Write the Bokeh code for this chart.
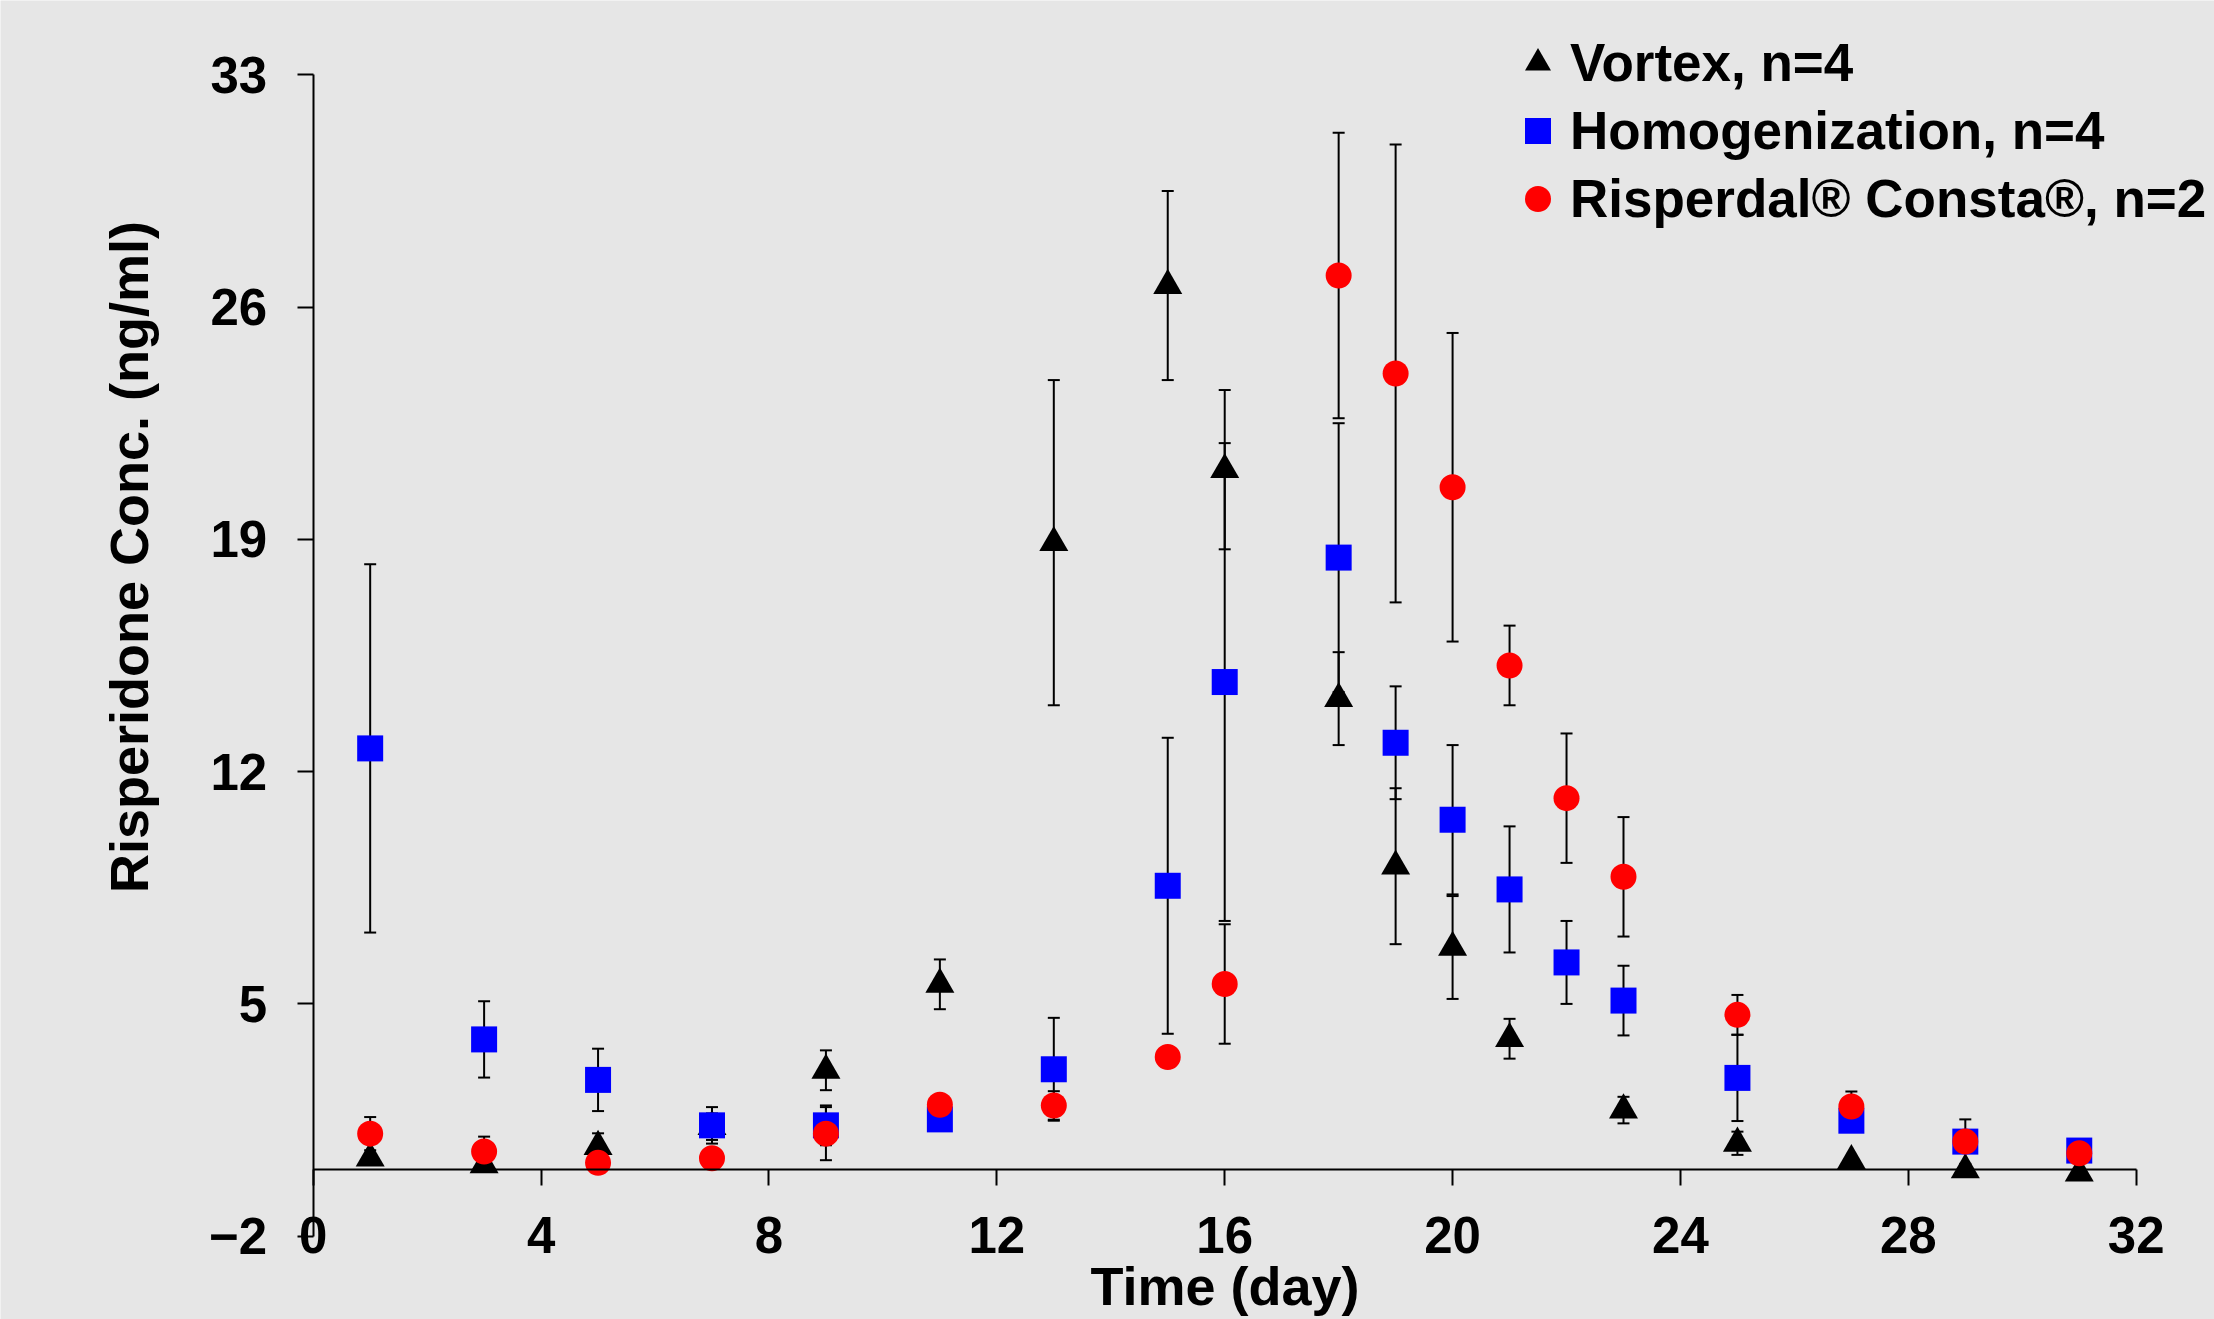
from bokeh.plotting import figure
from bokeh.models import (Range1d, FixedTicker, Whisker, ColumnDataSource, Legend,
                          LegendItem, TeeHead, LinearAxis)
from bokeh.embed import file_html
from bokeh.resources import INLINE

# ---- data ----
vortex_days = [1, 3, 5, 7, 9, 11, 13, 15, 16, 18, 19, 20, 21, 23, 25, 27, 29, 31]
vortex_mean = [0.35, 0.15, 0.7, 1.3, 3.0, 5.59, 18.9, 26.65, 21.1, 14.2, 9.15, 6.7, 3.95, 1.8, 0.8, 0.27, 0.0, -0.1]
vortex_err = [0.0, 0.0, 0.4, 0.4, 0.6, 0.75, 4.9, 2.85, 2.4, 1.4, 2.35, 1.55, 0.6, 0.4, 0.35, 0.0, 0.0, 0.0]

homog_days = [1, 3, 5, 7, 9, 11, 13, 15, 16, 18, 19, 20, 21, 22, 23, 25, 27, 29, 31]
homog_mean = [12.7, 3.93, 2.71, 1.34, 1.34, 1.52, 3.03, 8.56, 14.7, 18.45, 12.87, 10.55, 8.45, 6.25, 5.1, 2.77, 1.48, 0.85, 0.58]
homog_err = [5.55, 1.15, 0.94, 0.55, 0.6, 0.0, 1.55, 4.46, 7.2, 4.05, 1.7, 2.25, 1.9, 1.25, 1.05, 1.3, 0.0, 0.67, 0.0]

risp_days = [1, 3, 5, 7, 9, 11, 13, 15, 16, 18, 19, 20, 21, 22, 23, 25, 27, 29, 31]
risp_mean = [1.09, 0.55, 0.21, 0.35, 1.09, 1.96, 1.94, 3.4, 5.6, 26.95, 24.0, 20.57, 15.2, 11.2, 8.83, 4.67, 1.91, 0.85, 0.5]
risp_err = [0.5, 0.45, 0.0, 0.0, 0.8, 0.0, 0.43, 0.0, 1.8, 4.3, 6.9, 4.65, 1.2, 1.95, 1.8, 0.6, 0.45, 0.0, 0.0]

x_ticks = [0, 4, 8, 12, 16, 20, 24, 28, 32]
y_ticks = [-2, 5, 12, 19, 26, 33]

series_labels = ["Vortex, n=4", "Homogenization, n=4", "Risperdal\u00ae Consta\u00ae, n=2"]
x_title = "Time (day)"
y_title = "Risperidone Conc. (ng/ml)"

FONT = "Liberation Sans"
BG = "#e6e6e6"

p = figure(width=2214, height=1319, output_backend="svg", toolbar_location=None,
           x_range=Range1d(-5.489, 33.374), y_range=Range1d(-4.511, 35.239),
           min_border=0)
p.background_fill_color = BG
p.border_fill_color = BG
p.outline_line_color = None
p.grid.visible = False

# x axis drawn through y = 0, spanning days 0..32
xa = p.xaxis[0]
xa.fixed_location = 0
xa.bounds = (0, 32)
xa.ticker = FixedTicker(ticks=x_ticks)
xa.major_tick_out = 16
xa.major_tick_in = 0
xa.minor_tick_out = 0
xa.minor_tick_in = 0
xa.axis_line_width = 2
xa.major_tick_line_width = 2
xa.major_label_standoff = 31
xa.major_label_text_font = FONT
xa.major_label_text_font_style = "bold"
xa.major_label_text_font_size = "51px"
xa.major_label_text_color = "black"
xa.axis_label = x_title
xa.axis_label_text_font = FONT
xa.axis_label_text_font_style = "bold"
xa.axis_label_text_font_size = "54px"
xa.axis_label_text_color = "black"
xa.axis_label_standoff = 0

# y axis drawn through x = 0, spanning -2..33
ya = p.yaxis[0]
ya.fixed_location = 0
ya.bounds = (-2, 33)
ya.ticker = FixedTicker(ticks=y_ticks)
ya.major_tick_out = 16
ya.major_tick_in = 0
ya.minor_tick_out = 0
ya.minor_tick_in = 0
ya.axis_line_width = 2
ya.major_tick_line_width = 2
ya.major_label_standoff = 30
ya.major_label_text_font = FONT
ya.major_label_text_font_style = "bold"
ya.major_label_text_font_size = "51px"
ya.major_label_text_color = "black"

# y title carried by a bare axis so it can sit a little above the axis middle
ylab = LinearAxis(fixed_location=0, bounds=(3.94, 33), ticker=FixedTicker(ticks=[]),
                  axis_line_color=None, major_tick_line_color=None, minor_tick_line_color=None,
                  major_tick_out=0, major_tick_in=0, minor_tick_out=0, minor_tick_in=0,
                  major_label_standoff=0, major_label_text_font_size="0px",
                  axis_label=y_title, axis_label_standoff=155,
                  axis_label_text_font=FONT, axis_label_text_font_style="bold",
                  axis_label_text_font_size="54px", axis_label_text_color="black")
p.add_layout(ylab, "left")


def add_whiskers(days, mean, err):
    xs, lo, hi = [], [], []
    for d, m, e in zip(days, mean, err):
        if e > 0:
            xs.append(d)
            lo.append(m - e)
            hi.append(m + e)
    src = ColumnDataSource(dict(x=xs, lower=lo, upper=hi))
    w = Whisker(source=src, base="x", lower="lower", upper="upper",
                line_color="black", line_width=2,
                upper_head=TeeHead(size=12, line_width=2, line_color="black"),
                lower_head=TeeHead(size=12, line_width=2, line_color="black"))
    p.add_layout(w)


add_whiskers(vortex_days, vortex_mean, vortex_err)
add_whiskers(homog_days, homog_mean, homog_err)
add_whiskers(risp_days, risp_mean, risp_err)

r_v = p.scatter(vortex_days, vortex_mean, marker="triangle", size=29,
                fill_color="black", line_color="black", line_width=0)
r_h = p.scatter(homog_days, homog_mean, marker="square", size=26,
                fill_color="#0000ff", line_color="#0000ff", line_width=0)
r_r = p.scatter(risp_days, risp_mean, marker="circle", size=26,
                fill_color="#ff0000", line_color="#ff0000", line_width=0)

legend = Legend(items=[LegendItem(label=series_labels[0], renderers=[r_v]),
                       LegendItem(label=series_labels[1], renderers=[r_h]),
                       LegendItem(label=series_labels[2], renderers=[r_r])],
                location=(1505, 1088),
                glyph_width=65, glyph_height=65, label_height=65, spacing=3,
                label_standoff=0, padding=0, margin=0,
                background_fill_alpha=0, border_line_color=None,
                label_text_font=FONT, label_text_font_style="bold",
                label_text_font_size="53px", label_text_color="black")
p.add_layout(legend)

open("out.html", "w").write(file_html(p, INLINE))
